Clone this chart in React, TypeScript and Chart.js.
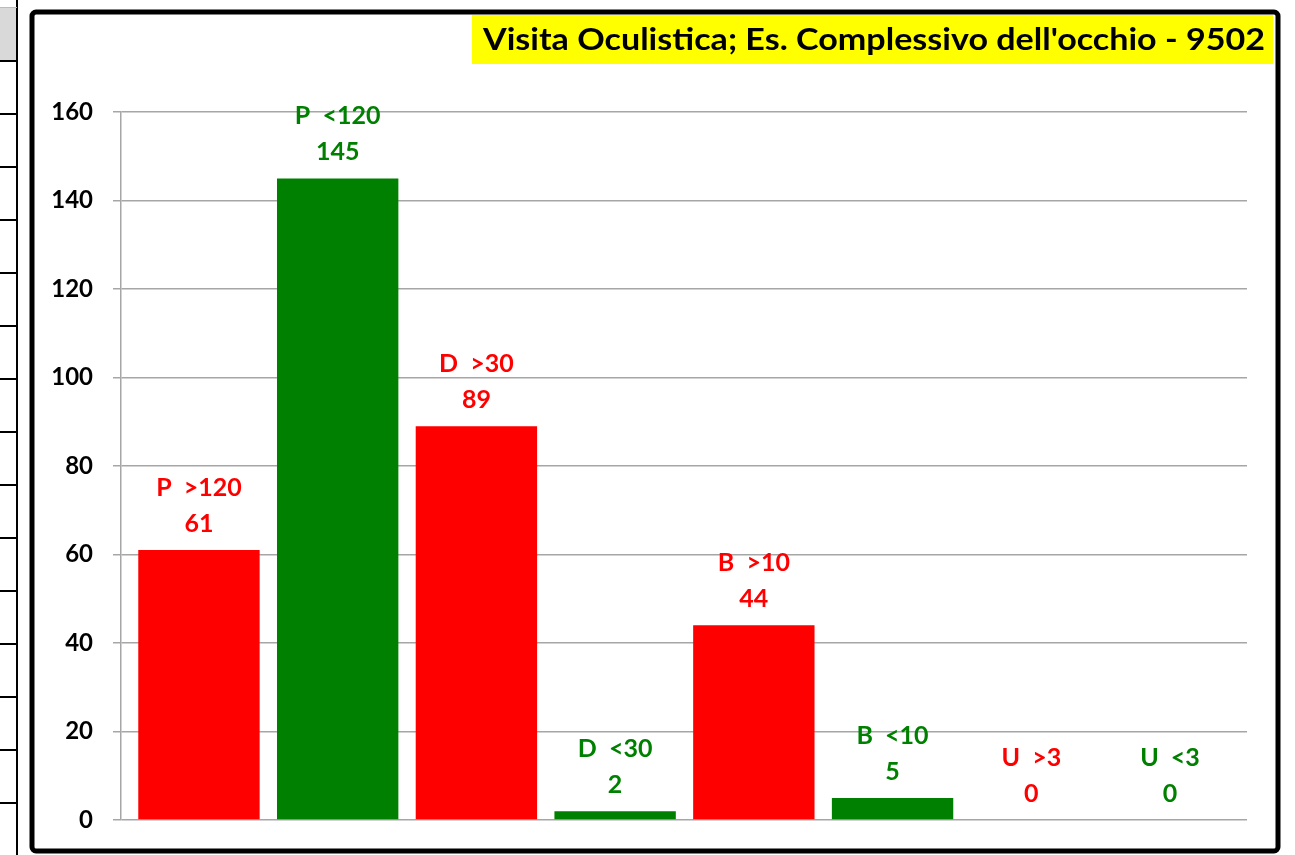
import React, { useEffect, useRef } from "react";
import { Chart, registerables } from "chart.js";

Chart.register(...registerables);

const TITLE = "Visita Oculistica; Es. Complessivo dell'occhio - 9502";
const categories = ["P  >120", "P  <120", "D  >30", "D  <30", "B  >10", "B  <10", "U  >3", "U  <3"];
const values = [61, 145, 89, 2, 44, 5, 0, 0];
const barColors = ["#FF0000", "#008000", "#FF0000", "#008000", "#FF0000", "#008000", "#FF0000", "#008000"];
const yTicks = [0, 20, 40, 60, 80, 100, 120, 140, 160];

const W = 1295;
const H = 855;
const FONT = "Lato, 'Open Sans', sans-serif";

const decorPlugin = {
  id: "decor",
  beforeDraw(chart: any) {
    const ctx = chart.ctx;
    ctx.save();
    ctx.fillStyle = "#ffffff";
    ctx.fillRect(0, 0, W, H);
    // left table fragment
    ctx.fillStyle = "#d9d9d9";
    ctx.fillRect(0, 8, 16, 53);
    ctx.strokeStyle = "#000000";
    ctx.lineWidth = 2;
    ctx.beginPath();
    ctx.moveTo(17, 0);
    ctx.lineTo(17, H);
    for (let y = 61; y < H; y += 53) {
      ctx.moveTo(0, y);
      ctx.lineTo(17, y);
    }
    ctx.stroke();
    ctx.strokeStyle = "#bbbbbb";
    ctx.lineWidth = 1;
    ctx.beginPath();
    ctx.moveTo(0, 7.5);
    ctx.lineTo(17, 7.5);
    ctx.stroke();
    // frame
    ctx.strokeStyle = "#000000";
    ctx.lineWidth = 5;
    ctx.beginPath();
    (ctx as any).roundRect(32, 12, 1246, 839, 4);
    ctx.stroke();
    // title box
    ctx.fillStyle = "#FFFF00";
    ctx.fillRect(472, 15, 801, 49);
    ctx.fillStyle = "#000000";
    ctx.font = `bold 31px ${FONT}`;
    ctx.textBaseline = "alphabetic";
    ctx.textAlign = "left";
    const w = ctx.measureText(TITLE).width;
    const sx = 782 / w;
    ctx.translate(483, 50);
    ctx.scale(sx, 1);
    ctx.fillText(TITLE, 0, 0);
    ctx.restore();
  },
};

const labelPlugin = {
  id: "barLabels",
  afterDatasetsDraw(chart: any) {
    const ctx = chart.ctx;
    const meta = chart.getDatasetMeta(0);
    ctx.save();
    ctx.font = `bold 25px ${FONT}`;
    ctx.textAlign = "center";
    ctx.textBaseline = "alphabetic";
    meta.data.forEach((bar: any, i: number) => {
      ctx.fillStyle = barColors[i];
      ctx.fillText(categories[i], bar.x, bar.y - 54);
      ctx.fillText(String(values[i]), bar.x, bar.y - 18);
    });
    ctx.restore();
  },
};

export default function App() {
  const ref = useRef<HTMLCanvasElement | null>(null);
  useEffect(() => {
    document.body.style.margin = "0";
    document.body.style.overflow = "hidden";
    const canvas = ref.current;
    if (!canvas) return;
    const chart = new Chart(canvas, {
      type: "bar",
      data: {
        datasets: [
          {
            data: values.map((v, i) => ({ x: i, y: v })),
            backgroundColor: barColors,
            borderWidth: 0,
            barPercentage: 0.875,
            categoryPercentage: 1,
          },
        ],
      },
      options: {
        responsive: false,
        animation: false,
        devicePixelRatio: 1,
        layout: { padding: { left: 0, right: 48, top: 112, bottom: 35 } },
        plugins: {
          legend: { display: false },
          title: { display: false },
          tooltip: { enabled: false },
        },
        scales: {
          x: {
            type: "linear",
            bounds: "data",
            offset: false,
            min: -0.562,
            max: 7.555,
            display: false,
            afterBuildTicks: (scale: any) => {
              scale.ticks = categories.map((_, i) => ({ value: i }));
            },
          },
          y: {
            min: 0,
            max: 160,
            afterFit: (scale: any) => {
              scale.width = 121;
            },
            afterBuildTicks: (scale: any) => {
              scale.ticks = yTicks.map((v) => ({ value: v }));
            },
            grid: {
              color: "#a6a6a6",
              lineWidth: 1.5,
              drawTicks: true,
              tickLength: 8,
            },
            border: { display: true, color: "#a6a6a6", width: 1.5 },
            ticks: {
              color: "#000000",
              font: { family: FONT, size: 24, weight: "bold" },
              padding: 20,
            },
          },
        },
      },
      plugins: [decorPlugin, labelPlugin],
    });
    return () => chart.destroy();
  }, []);
  return (
    <div style={{ width: W, height: H, position: "relative" }}>
      <canvas ref={ref} width={W} height={H} style={{ display: "block" }} />
    </div>
  );
}
